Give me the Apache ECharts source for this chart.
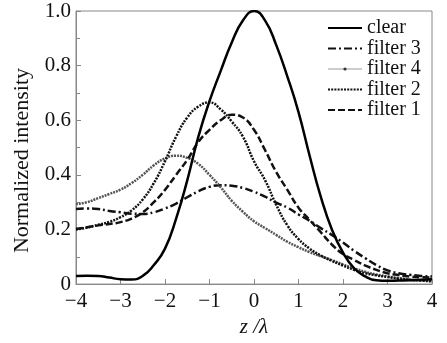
<!DOCTYPE html>
<html>
<head>
<meta charset="utf-8">
<script src="https://cdn.jsdelivr.net/npm/echarts@6/dist/echarts.min.js"></script>
<style>html,body{margin:0;padding:0;background:#fff;}#c{width:447px;height:343px;}</style>
</head>
<body>
<div id="c"></div>
<script>
var zValues = [-4,-3.75,-3.5,-3.25,-3,-2.75,-2.5,-2.25,-2,-1.75,-1.5,-1.25,-1,-0.75,-0.5,-0.25,0,0.25,0.5,0.75,1,1.25,1.5,1.75,2,2.25,2.5,2.75,3,3.25,3.5,3.75,4];
var clearVals = [0.03,0.031,0.03,0.024,0.018,0.017,0.03,0.07,0.13,0.24,0.38,0.54,0.67,0.78,0.885,0.965,1.0,0.965,0.875,0.76,0.63,0.47,0.32,0.2,0.115,0.058,0.028,0.014,0.012,0.013,0.014,0.016,0.018];
var filter3Vals = [0.275,0.277,0.275,0.268,0.263,0.258,0.257,0.263,0.277,0.295,0.318,0.34,0.356,0.362,0.36,0.352,0.338,0.32,0.298,0.28,0.255,0.232,0.205,0.18,0.152,0.122,0.095,0.07,0.05,0.04,0.034,0.03,0.028];
var filter4Vals = [0.293,0.30,0.315,0.33,0.346,0.37,0.40,0.435,0.46,0.47,0.462,0.44,0.40,0.355,0.305,0.265,0.23,0.205,0.18,0.155,0.135,0.117,0.102,0.088,0.072,0.058,0.045,0.035,0.028,0.022,0.017,0.014,0.012];
var filter2Vals = [0.20,0.207,0.217,0.228,0.245,0.27,0.31,0.37,0.45,0.54,0.61,0.65,0.665,0.64,0.595,0.54,0.45,0.38,0.29,0.215,0.165,0.13,0.105,0.085,0.068,0.052,0.04,0.032,0.026,0.02,0.016,0.013,0.01];
var filter1Vals = [0.203,0.208,0.215,0.22,0.227,0.24,0.263,0.30,0.345,0.40,0.455,0.52,0.565,0.60,0.62,0.61,0.565,0.49,0.41,0.345,0.28,0.235,0.19,0.145,0.11,0.088,0.068,0.052,0.04,0.033,0.028,0.025,0.024];
var xTicks = [-4,-3,-2,-1,0,1,2,3,4];
var yTicks = [0,0.2,0.4,0.6,0.8,1.0];

function pairs(vals){ return zValues.map(function(z,i){ return [z, vals[i]]; }); }
var FONT = 'Liberation Serif';
var chart = echarts.init(document.getElementById('c'));
chart.setOption({
  animation: false,
  backgroundColor: '#ffffff',
  grid: {left: 76, right: 15, top: 11, bottom: 53, show: true, borderColor: '#888', borderWidth: 1},
  legend: {
    orient: 'vertical', left: 322, top: 13, itemWidth: 34, itemHeight: 4, itemGap: 0.5,
    textStyle: {fontFamily: FONT, fontSize: 20, color: '#111', lineHeight: 20},
    itemStyle: {opacity: 0},
    data: [
      {name: 'clear'},
      {name: 'filter 3'},
      {name: 'filter 4', lineStyle: {type: 'solid', width: 1, color: '#999'}, itemStyle: {color: '#333', opacity: 1}},
      {name: 'filter 2'},
      {name: 'filter 1'}
    ]
  },
  xAxis: {
    type: 'value', min: -4, max: 4, interval: 1,
    axisLine: {onZero: false, lineStyle: {color: '#888'}},
    axisTick: {inside: true, length: 5, lineStyle: {color: '#888'}},
    splitLine: {show: false},
    axisLabel: {fontFamily: FONT, fontSize: 21, color: '#111', margin: 7,
      formatter: function(v){ return xTicks.indexOf(v) >= 0 ? (v < 0 ? '\u2212' + Math.abs(v) : String(v)) : ''; }},
    name: 'z /λ', nameLocation: 'middle', nameGap: 30,
    nameTextStyle: {fontFamily: FONT, fontSize: 21, fontStyle: 'italic', color: '#111', verticalAlign: 'top'}
  },
  yAxis: {
    type: 'value', min: 0, max: 1, interval: 0.2,
    axisLine: {show: true, onZero: false, lineStyle: {color: '#888'}},
    axisTick: {show: true, inside: true, length: 5, lineStyle: {color: '#888'}},
    minorTick: {show: true, splitNumber: 2, length: 4, lineStyle: {color: '#888'}},
    splitLine: {show: false},
    axisLabel: {fontFamily: FONT, fontSize: 21, color: '#111', margin: 5,
      formatter: function(v){ var t = yTicks.filter(function(y){return Math.abs(y-v)<1e-9;}); if(!t.length) return ''; return v === 0 ? '0' : v.toFixed(1); }},
    name: 'Normalized intensity', nameLocation: 'middle', nameGap: 43,
    nameTextStyle: {fontFamily: FONT, fontSize: 22, color: '#111', padding: [0, 26, 0, 0]}
  },
  series: [
    {name: 'clear', type: 'line', smooth: true, symbol: 'none', data: pairs(clearVals),
     lineStyle: {color: '#000', width: 2.5, type: 'solid'}, itemStyle: {color: '#000'}, z: 5},
    {name: 'filter 3', type: 'line', smooth: true, symbol: 'none', data: pairs(filter3Vals),
     lineStyle: {color: '#111', width: 2.5, type: [8,3,2,3]}, itemStyle: {color: '#111'}},
    {name: 'filter 4', type: 'line', smooth: true, symbol: 'none', data: pairs(filter4Vals),
     lineStyle: {color: '#555', width: 2.5, type: [2,1]}, itemStyle: {color: '#555'}},
    {name: 'filter 2', type: 'line', smooth: true, symbol: 'none', data: pairs(filter2Vals),
     lineStyle: {color: '#111', width: 2.5, type: [2,1.2]}, itemStyle: {color: '#111'}},
    {name: 'filter 1', type: 'line', smooth: true, symbol: 'none', data: pairs(filter1Vals),
     lineStyle: {color: '#111', width: 2.5, type: [7,3]}, itemStyle: {color: '#111'}}
  ]
});
</script>
</body>
</html>
